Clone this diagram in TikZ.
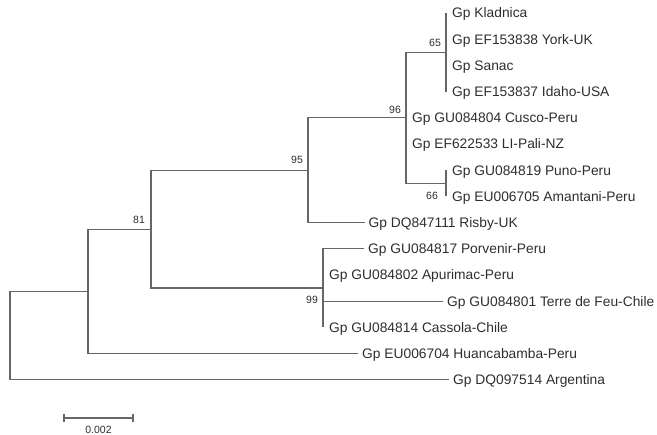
\documentclass[tikz,border=0pt]{standalone}
\usepackage{fontspec}
\setmainfont{Liberation Sans}
\definecolor{linecol}{gray}{0.40}
\definecolor{textcol}{gray}{0.18}
\begin{document}
\begin{tikzpicture}[x=1bp,y=-1bp,
  branch/.style={draw=linecol,line width=1.2bp},
  leaf/.style={anchor=base west,inner sep=0pt,text=textcol,font=\fontsize{13.8bp}{16bp}\selectfont},
  support/.style={inner sep=0pt,text=textcol,font=\fontsize{10.5bp}{12bp}\selectfont}]
\useasboundingbox (0,0) rectangle (657,435);
% internal nodes
\coordinate (root) at (10,335.6);
\coordinate (nA)   at (88,291.4);
\coordinate (n81)  at (151,229.2);
\coordinate (n95)  at (308,170.2);
\coordinate (n96)  at (406,117.8);
\coordinate (n65)  at (446,52.3);
\coordinate (n66)  at (446,183.3);
\coordinate (n99)  at (323,288.1);
% tips
\coordinate (tKla) at (446,13);
\coordinate (tYor) at (446,39.2);
\coordinate (tSan) at (446,65.4);
\coordinate (tIda) at (446,91.6);
\coordinate (tCus) at (406,117.8);
\coordinate (tLIP) at (406,144);
\coordinate (tPun) at (446,170.2);
\coordinate (tAma) at (446,196.4);
\coordinate (tRis) at (365,222.6);
\coordinate (tPor) at (364,248.8);
\coordinate (tApu) at (323,275);
\coordinate (tTer) at (443,301.2);
\coordinate (tCas) at (323,327.4);
\coordinate (tHua) at (358,353.6);
\coordinate (tArg) at (449,379.8);
% branches
\draw[branch] (root) |- (tArg);
\draw[branch] (root) |- (nA);
\draw[branch] (nA) |- (tHua);
\draw[branch] (nA) |- (n81);
\draw[branch] (n81) |- (n95);
\draw[branch] (n81) |- (n99);
\draw[branch] (n95) |- (n96);
\draw[branch] (n95) |- (tRis);
\draw[branch] (n96) |- (n65);
\draw[branch] (n96) |- (n66);
\draw[branch] (n96) |- (tCus);
\draw[branch] (n96) |- (tLIP);
\draw[branch] (n65) |- (tKla);
\draw[branch] (n65) |- (tIda);
\draw[branch] (n66) |- (tPun);
\draw[branch] (n66) |- (tAma);
\draw[branch] (n99) |- (tPor);
\draw[branch] (n99) |- (tCas);
\draw[branch] (n99) |- (tTer);
% leaf labels
\node[leaf] (Kla) at ([shift={(6,5)}]tKla) {Gp Kladnica};
\node[leaf] (Yor) at ([shift={(6,5)}]tYor) {Gp EF153838 York-UK};
\node[leaf] (San) at ([shift={(6,5)}]tSan) {Gp Sanac};
\node[leaf] (Ida) at ([shift={(6,5)}]tIda) {Gp EF153837 Idaho-USA};
\node[leaf] (Cus) at ([shift={(6,5)}]tCus) {Gp GU084804 Cusco-Peru};
\node[leaf] (LIP) at ([shift={(6,5)}]tLIP) {Gp EF622533 LI-Pali-NZ};
\node[leaf] (Pun) at ([shift={(6,5)}]tPun) {Gp GU084819 Puno-Peru};
\node[leaf] (Ama) at ([shift={(6,5)}]tAma) {Gp EU006705 Amantani-Peru};
\node[leaf] (Ris) at ([shift={(3.5,5)}]tRis) {Gp DQ847111 Risby-UK};
\node[leaf] (Por) at ([shift={(4,5)}]tPor) {Gp GU084817 Porvenir-Peru};
\node[leaf] (Apu) at ([shift={(6,5)}]tApu) {Gp GU084802 Apurimac-Peru};
\node[leaf] (Ter) at ([shift={(4,5)}]tTer) {Gp GU084801 Terre de Feu-Chile};
\node[leaf] (Cas) at ([shift={(6,5)}]tCas) {Gp GU084814 Cassola-Chile};
\node[leaf] (Hua) at ([shift={(4,5)}]tHua) {Gp EU006704 Huancabamba-Peru};
\node[leaf] (Arg) at ([shift={(4,5)}]tArg) {Gp DQ097514 Argentina};
% support values
\node[support] (s65) at (435,43) {65};
\node[support] (s96) at (395,110) {96};
\node[support] (s95) at (297,160) {95};
\node[support] (s81) at (139,220) {81};
\node[support] (s99) at (312,300) {99};
\node[support] (s66) at (432,196) {66};
% scale bar
\coordinate (sbL) at (64,418);
\coordinate (sbR) at (133,418);
\draw[branch] (sbL) -- (sbR);
\draw[branch] ([yshift=-4]sbL) -- ([yshift=4]sbL);
\draw[branch] ([yshift=-4]sbR) -- ([yshift=4]sbR);
\node[support] (sbLab) at (98.5,430) {0.002};
\end{tikzpicture}
\end{document}
